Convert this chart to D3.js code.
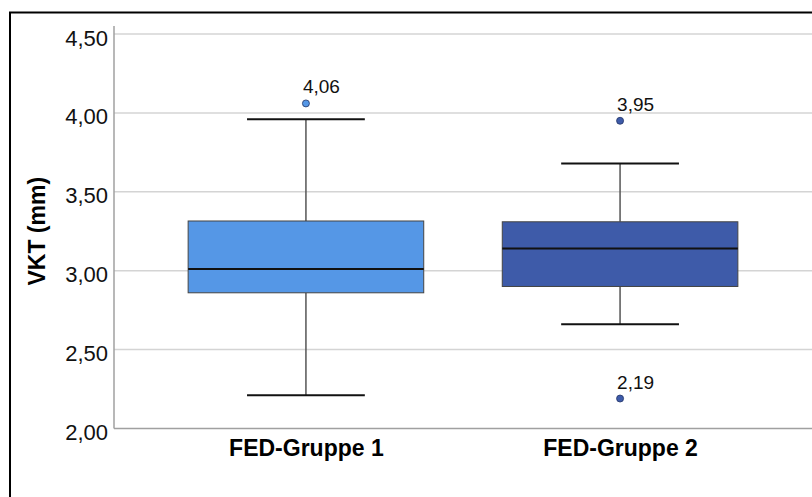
<!DOCTYPE html>
<html>
<head>
<meta charset="utf-8">
<script src="https://cdn.jsdelivr.net/npm/d3@7"></script>
<style>
  html, body { margin: 0; padding: 0; background: #fff; }
  svg { display: block; font-family: "Liberation Sans", Arial, sans-serif; }
</style>
</head>
<body>
<svg id="chart" width="812" height="497"></svg>
<script>
// Box plot of VKT (mm) by FED group
const groups = ["FED-Gruppe 1", "FED-Gruppe 2"];
const whiskerLow  = [2.21, 2.66];
const q1          = [2.86, 2.90];
const median      = [3.01, 3.14];
const q3          = [3.315, 3.31];
const whiskerHigh = [3.96, 3.68];
const outliers    = [[4.06], [3.95, 2.19]];
const fills       = ["#5597e6", "#3e5ba9"];
const yTicks      = [2.0, 2.5, 3.0, 3.5, 4.0, 4.5];

const de = d3.formatLocale({ decimal: ",", thousands: ".", grouping: [3], currency: ["", " €"] });
const fmt = de.format(".2f");

const svg = d3.select("#chart");
const plot = { left: 114, right: 812, top: 34, bottom: 428.5 };

const x = d3.scalePoint().domain(groups).range([plot.left, plot.right]).padding(0.611);
const y = d3.scaleLinear().domain([2, 4.5]).range([plot.bottom, plot.top]);
const boxW = x.step() * 0.75;

// outer frame
svg.append("rect")
  .attr("x", 10).attr("y", 12.5)
  .attr("width", 900).attr("height", 600)
  .attr("fill", "none").attr("stroke", "#000").attr("stroke-width", 2);

// horizontal gridlines
svg.append("g").selectAll("line").data(yTicks.filter(t => t > 2)).join("line")
  .attr("x1", plot.left).attr("x2", plot.right)
  .attr("y1", d => y(d)).attr("y2", d => y(d))
  .attr("stroke", "#d4d4d4").attr("stroke-width", 1.5);

// y axis
const yAxis = svg.append("g")
  .attr("transform", `translate(${plot.left},0)`)
  .call(d3.axisLeft(y).tickValues(yTicks).tickFormat(fmt).tickSize(0).tickPadding(6));
yAxis.select(".domain").remove();
yAxis.selectAll("text")
  .attr("font-size", 22).attr("fill", "#111")
  .attr("dy", null).attr("y", 11).attr("font-family", "Liberation Sans, Arial, sans-serif");

// axis lines
svg.append("line")
  .attr("x1", plot.left).attr("x2", plot.left)
  .attr("y1", 26).attr("y2", plot.bottom)
  .attr("stroke", "#a0a0a0").attr("stroke-width", 1.5);

// x axis
const xAxis = svg.append("g")
  .attr("transform", `translate(0,${plot.bottom})`)
  .call(d3.axisBottom(x).tickSize(0).tickPadding(0));
xAxis.select(".domain").remove();
xAxis.selectAll("text")
  .attr("font-size", 23).attr("font-weight", "bold").attr("fill", "#000")
  .attr("dy", null).attr("y", 27).attr("font-family", "Liberation Sans, Arial, sans-serif");

svg.append("line")
  .attr("x1", plot.left).attr("x2", plot.right)
  .attr("y1", plot.bottom).attr("y2", plot.bottom)
  .attr("stroke", "#a0a0a0").attr("stroke-width", 1.5);

// y axis title
svg.append("text")
  .attr("transform", `translate(45,${(plot.top + plot.bottom) / 2}) rotate(-90)`)
  .attr("text-anchor", "middle")
  .attr("font-size", 23).attr("font-weight", "bold").attr("fill", "#000")
  .text("VKT (mm)");

// boxes
const data = groups.map((g, i) => ({
  g, lo: whiskerLow[i], q1: q1[i], med: median[i], q3: q3[i], hi: whiskerHigh[i],
  out: outliers[i], fill: fills[i]
}));

const box = svg.append("g").selectAll("g").data(data).join("g");

box.append("line")
  .attr("x1", d => x(d.g)).attr("x2", d => x(d.g))
  .attr("y1", d => y(d.hi)).attr("y2", d => y(d.q3))
  .attr("stroke", "#555").attr("stroke-width", 1.5);
box.append("line")
  .attr("x1", d => x(d.g)).attr("x2", d => x(d.g))
  .attr("y1", d => y(d.q1)).attr("y2", d => y(d.lo))
  .attr("stroke", "#555").attr("stroke-width", 1.5);

box.selectAll(".cap").data(d => [d.hi, d.lo].map(v => ({ g: d.g, v }))).join("line")
  .attr("class", "cap")
  .attr("x1", d => x(d.g) - boxW / 4).attr("x2", d => x(d.g) + boxW / 4)
  .attr("y1", d => y(d.v)).attr("y2", d => y(d.v))
  .attr("stroke", "#111").attr("stroke-width", 2);

box.append("rect")
  .attr("x", d => x(d.g) - boxW / 2).attr("width", boxW)
  .attr("y", d => y(d.q3)).attr("height", d => y(d.q1) - y(d.q3))
  .attr("fill", d => d.fill).attr("stroke", "#444").attr("stroke-width", 1);

box.append("line")
  .attr("x1", d => x(d.g) - boxW / 2).attr("x2", d => x(d.g) + boxW / 2)
  .attr("y1", d => y(d.med)).attr("y2", d => y(d.med))
  .attr("stroke", "#111").attr("stroke-width", 2);

// outliers with value labels
const pts = box.selectAll(".out").data(d => d.out.map(v => ({ g: d.g, v, fill: d.fill }))).join("g")
  .attr("class", "out");
pts.append("circle")
  .attr("cx", d => x(d.g)).attr("cy", d => y(d.v)).attr("r", 3.5)
  .attr("fill", d => d.fill).attr("stroke", "#223366").attr("stroke-width", 0.8);
pts.append("text")
  .attr("x", d => x(d.g) - 3).attr("y", d => y(d.v) - 10)
  .attr("font-size", 19).attr("fill", "#111")
  .text(d => fmt(d.v));
</script>
</body>
</html>
